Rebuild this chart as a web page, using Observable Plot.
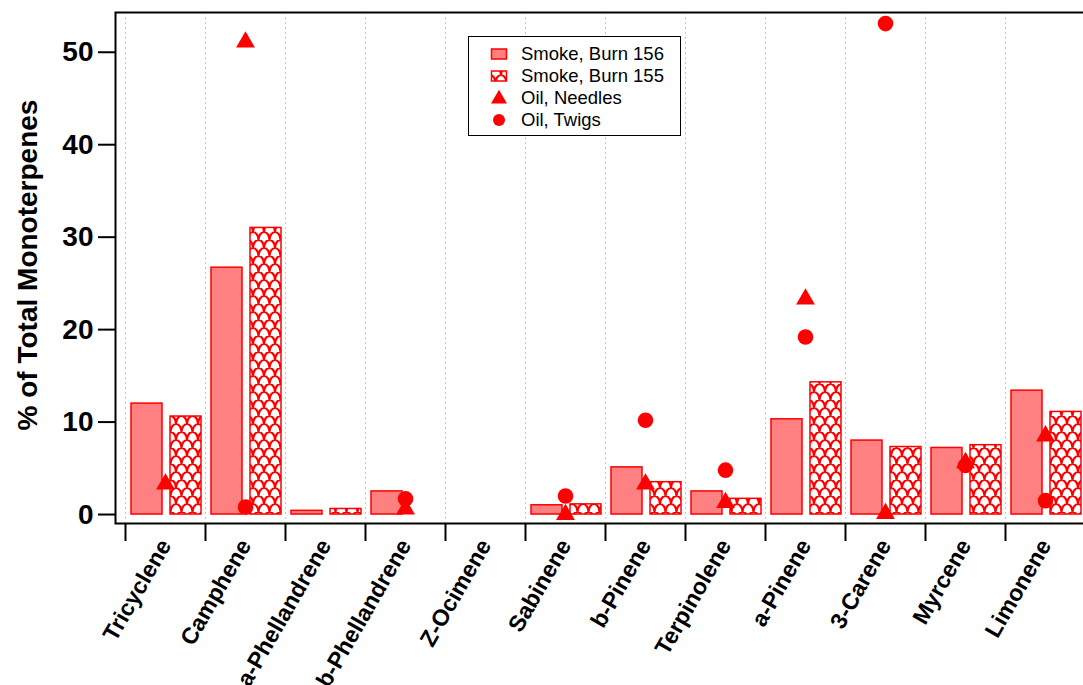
<!DOCTYPE html>
<html><head><meta charset="utf-8">
<script src="https://cdn.jsdelivr.net/npm/d3@7"></script>
<script src="https://cdn.jsdelivr.net/npm/@observablehq/plot@0.6"></script>
<style>
html,body{margin:0;padding:0;overflow:hidden;background:#fff;}
#wrap{position:relative;width:1083px;height:685px;font-family:"Liberation Sans",Arial,sans-serif;}
#legend{position:absolute;left:468px;top:36px;width:211px;height:98px;border:1.6px solid #000;background:#fff;}
.row{position:absolute;left:0;height:22px;display:flex;align-items:center;font-size:18.5px;color:#000;}
.row svg{margin-left:21px;margin-right:13px;}
</style></head><body>
<div id="wrap"><div id="chart"></div><div id="legend"></div></div>
<script>
const categories = ["Tricyclene","Camphene","a-Phellandrene","b-Phellandrene","Z-Ocimene","Sabinene","b-Pinene","Terpinolene","a-Pinene","3-Carene","Myrcene","Limonene"];
const smoke156 = [12.0, 26.7, 0.4, 2.5, null, 1.0, 5.1, 2.5, 10.3, 8.0, 7.2, 13.4];
const smoke155 = [10.6, 31.0, 0.6, null, null, 1.1, 3.5, 1.7, 14.3, 7.3, 7.5, 11.1];
const oilNeedles = [3.3, 51.1, null, 0.6, null, 0.0, 3.3, 1.3, 23.3, 0.1, 5.6, 8.5];
const oilTwigs = [null, 0.8, null, 1.7, null, 2.0, 10.2, 4.8, 19.2, 53.1, 5.3, 1.5];
const yTicks = [0, 10, 20, 30, 40, 50];
const seriesNames = ["Smoke, Burn 156", "Smoke, Burn 155", "Oil, Needles", "Oil, Twigs"];

const rows = categories.map((c, i) => ({cat: c, b156: smoke156[i], b155: smoke155[i], needles: oilNeedles[i], twigs: oilTwigs[i]}));
const RED = "#ff0000", PINK = "#ff8080";

const chart = Plot.plot({
  width: 1083, height: 685,
  marginLeft: 115, marginRight: -12, marginTop: 12, marginBottom: 162,
  x: {domain: categories, range: [125, 1085], padding: 0, axis: null},
  y: {domain: [-0.97, 54.3], axis: null},
  style: {fontFamily: "Liberation Sans, Arial, sans-serif", background: "white", color: "black"},
  marks: [
    Plot.gridX(categories, {dx: -40, stroke: "#c4c4c4", strokeOpacity: 1, strokeDasharray: "2,3", strokeWidth: 1}),
    Plot.barY(rows.filter(d => d.b156 != null), {x: "cat", y1: 0, y2: "b156", fill: PINK, stroke: RED, strokeWidth: 1.5, insetLeft: 6, insetRight: 43}),
    Plot.barY(rows.filter(d => d.b155 != null), {x: "cat", y1: 0, y2: "b155", fill: "url(#scales)", stroke: RED, strokeWidth: 1.5, insetLeft: 45, insetRight: 4}),
    Plot.dot(rows.filter(d => d.twigs != null), {x: "cat", y: "twigs", r: 7.8, fill: RED, stroke: "none"}),
    Plot.dot(rows.filter(d => d.needles != null), {x: "cat", y: "needles", symbol: "triangle", r: 7, fill: RED, stroke: "none"}),
    Plot.frame({stroke: "black", strokeWidth: 2}),
    Plot.axisY(yTicks, {anchor: "left", tickSize: 17, tickPadding: 5, fontSize: 28, fontWeight: "bold", strokeWidth: 2, label: null}),
    Plot.axisX(categories, {anchor: "bottom", dx: -40, tickSize: 18, tickFormat: () => "", strokeWidth: 2, label: null}),
    Plot.axisX(categories, {anchor: "bottom", tickSize: 0, tickPadding: 18, tickRotate: -60, fontSize: 23, fontWeight: "bold", label: null})
  ]
});

const svg = d3.select(chart);
const defs = svg.insert("defs", ":first-child");
const pat = defs.append("pattern").attr("id", "scales").attr("patternUnits", "userSpaceOnUse")
  .attr("width", 11).attr("height", 16);
pat.append("rect").attr("width", 11).attr("height", 16).attr("fill", "white");
pat.append("path")
  .attr("d", "M0,8 A5.5,8 0 0 1 11,8 M-5.5,16 A5.5,8 0 0 1 5.5,16 M5.5,16 A5.5,8 0 0 1 16.5,16 M-5.5,0 A5.5,8 0 0 1 5.5,0 M5.5,0 A5.5,8 0 0 1 16.5,0")
  .attr("fill", "none").attr("stroke", RED).attr("stroke-width", 2.2);

svg.append("text")
  .attr("transform", "translate(27,265) rotate(-90)")
  .attr("text-anchor", "middle").attr("dominant-baseline", "central")
  .attr("font-size", 28).attr("font-weight", "bold").attr("fill", "black")
  .text("% of Total Monoterpenes");

document.getElementById("chart").appendChild(chart);

// legend
const legend = d3.select("#legend");
const symbols = [
  s => s.append("rect").attr("x", 1.5).attr("y", 4).attr("width", 15).attr("height", 10).attr("fill", PINK).attr("stroke", RED).attr("stroke-width", 1.5),
  s => s.append("rect").attr("x", 1.5).attr("y", 4).attr("width", 15).attr("height", 10).attr("fill", "url(#scales)").attr("stroke", RED).attr("stroke-width", 1.5),
  s => s.append("path").attr("d", d3.symbol(d3.symbolTriangle, 110)()).attr("transform", "translate(9,10)").attr("fill", RED),
  s => s.append("circle").attr("cx", 9).attr("cy", 9).attr("r", 6).attr("fill", RED)
];
seriesNames.forEach((name, i) => {
  const row = legend.append("div").attr("class", "row").style("top", (6 + i * 22) + "px");
  const s = row.append("svg").attr("width", 18).attr("height", 18);
  symbols[i](s);
  row.append("span").text(name);
});
</script>
</body></html>
